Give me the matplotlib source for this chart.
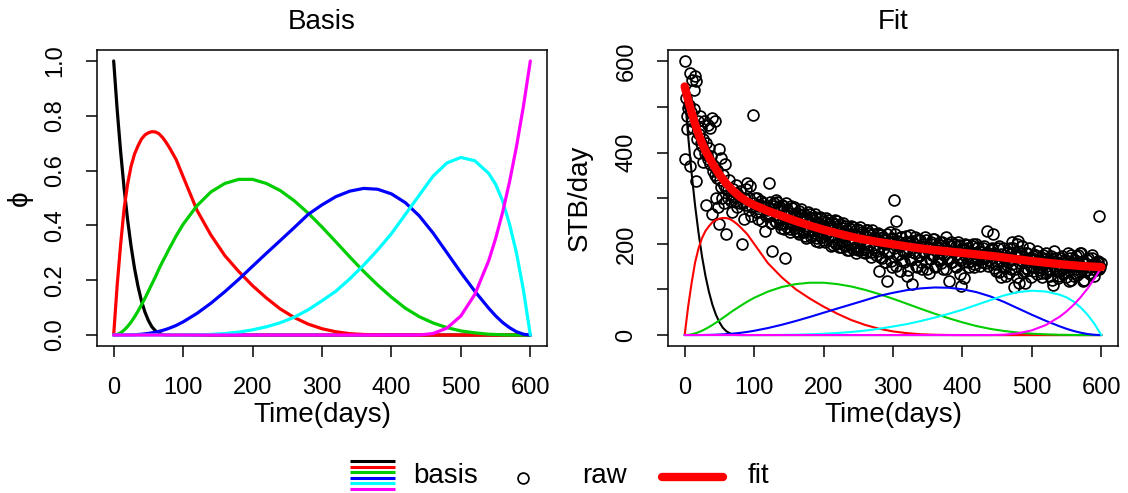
import matplotlib
matplotlib.use("Agg")
import matplotlib.pyplot as plt
import numpy as np

plt.rcParams['font.family'] = ['Liberation Sans', 'DejaVu Sans']

# ---------------- data ----------------
basis_days = [0, 5, 10, 15, 20, 25, 30, 35, 40, 45, 50, 55, 60, 65, 70, 75, 80,
              90, 100, 120, 140, 160, 180, 200, 220, 240, 260, 280, 300, 320, 340,
              360, 380, 400, 420, 440, 460, 480, 500, 520, 540, 550, 560, 570, 580,
              590, 600]

basis_black = [1.0, 0.824, 0.670, 0.536, 0.422, 0.325, 0.244, 0.178, 0.125, 0.084,
               0.053, 0.030, 0.016, 0.007, 0.002, 0.0002, 0,
               0, 0, 0, 0, 0, 0, 0, 0, 0, 0, 0, 0, 0, 0, 0, 0, 0, 0, 0,
               0, 0, 0, 0, 0, 0, 0, 0, 0, 0, 0]
basis_red = [0, 0.18, 0.33, 0.46, 0.55, 0.615, 0.66, 0.69, 0.715, 0.73, 0.738,
             0.742, 0.741, 0.735, 0.722, 0.705, 0.685,
             0.64, 0.578,
             0.455, 0.365, 0.29, 0.232, 0.18, 0.135, 0.095, 0.064, 0.04, 0.023,
             0.012, 0.005, 0.002, 0.0005, 0, 0, 0,
             0, 0, 0, 0, 0,
             0, 0, 0, 0, 0, 0]
basis_green = [0, 0.002, 0.008, 0.018, 0.031, 0.047, 0.066, 0.087, 0.11, 0.134,
               0.16, 0.186, 0.212, 0.24, 0.266, 0.29, 0.315,
               0.362, 0.404,
               0.472, 0.522, 0.553, 0.568, 0.568, 0.553, 0.527, 0.49, 0.445, 0.394,
               0.34, 0.285, 0.232, 0.183, 0.138, 0.098, 0.067,
               0.044, 0.027, 0.015, 0.008, 0.003,
               0.002, 0.001, 0, 0, 0, 0]
basis_blue = [0, 0, 0, 0.0002, 0.0004, 0.0008, 0.0013, 0.002, 0.003, 0.0044,
              0.006, 0.008, 0.0105, 0.0133, 0.0166, 0.0204, 0.0248,
              0.035, 0.048,
              0.079, 0.116, 0.158, 0.203, 0.251, 0.2985, 0.345, 0.392, 0.44, 0.475,
              0.505, 0.525, 0.535, 0.532, 0.515, 0.483, 0.435,
              0.372, 0.30, 0.228, 0.16, 0.098,
              0.07, 0.046, 0.027, 0.012, 0.003, 0]
basis_cyan = [0, 0, 0, 0, 0, 0, 0, 0, 0, 0, 0, 0, 0, 0, 0, 0, 0,
              0, 0.0001,
              0.0007, 0.0023, 0.0054, 0.0106, 0.019, 0.03, 0.045, 0.065, 0.092,
              0.125, 0.16, 0.205, 0.255, 0.31, 0.37, 0.44, 0.51,
              0.58, 0.628, 0.648, 0.636, 0.59,
              0.55, 0.49, 0.405, 0.30, 0.165, 0]
basis_magenta = [0, 0, 0, 0, 0, 0, 0, 0, 0, 0, 0, 0, 0, 0, 0, 0, 0,
                 0, 0,
                 0, 0, 0, 0, 0, 0, 0, 0, 0, 0, 0, 0, 0, 0, 0, 0, 0.0002,
                 0.0055, 0.0254, 0.0698, 0.148, 0.271,
                 0.352, 0.447, 0.5585, 0.687, 0.834, 1.0]

basis_series = [basis_black, basis_red, basis_green, basis_blue, basis_cyan, basis_magenta]
basis_colors = ['black', '#FF0000', '#00CD00', '#0000FF', '#00FFFF', '#FF00FF']

# scale of each basis function in the "Fit" panel
basis_coef = [530, 346, 202, 195, 150, 148]

fit_days = [0, 5, 10, 15, 20, 25, 30, 40, 50, 60, 70, 80, 90, 100, 120, 140, 160,
            180, 200, 225, 250, 275, 300, 325, 350, 375, 400, 425, 450, 475, 500,
            525, 550, 575, 600]
fit_stb = [545, 515, 488, 463, 440, 421, 404, 376, 352, 332, 316, 303, 293, 285,
           272, 261, 250, 240, 231, 221, 212, 205, 199, 193, 188, 184, 180, 176,
           172, 167, 162, 158, 154, 151, 149]

# raw observations, first set (early days and even days)
raw_days = [
    0, 1, 2, 3, 4, 5, 6, 7, 8, 9, 10, 11, 12, 13, 14, 15, 16, 17, 18, 19, 20,
    21, 22, 23, 24, 25, 26, 27, 28, 29, 30, 31, 32, 33, 34, 35, 36, 37, 38, 39, 40,
    41, 42, 43, 44, 45, 46, 47, 48, 49, 50, 51, 52, 53, 54, 55, 56, 57, 58, 59, 60,
    62, 63, 64, 66, 67, 68, 70, 71, 72, 74, 75, 76, 78, 79, 80, 82, 84, 85, 86, 88,
    89, 90, 92, 93, 94, 96, 97, 98, 100, 101, 102, 104, 105, 106, 108, 109, 110,
    112, 113, 114, 116, 117, 118, 120,
    122, 124, 126, 128, 130, 132, 134, 136, 138, 140, 142, 144, 146, 148, 150, 152,
    154, 156, 158, 160, 162, 164, 166, 168, 170, 172, 174, 176, 178, 180, 182, 184,
    186, 188, 190, 192, 194, 196, 198, 200, 202, 204, 206, 208, 210, 212, 214, 216,
    218, 220, 222, 224, 226, 228, 230, 232, 234, 236, 238, 240, 242, 244, 246, 248,
    250, 252, 254, 256, 258, 260, 262, 264, 266, 268, 270, 272, 274, 276, 278, 280,
    282, 284, 286, 288, 290, 292, 294, 296, 298, 300, 302, 304, 306, 308, 310, 312,
    314, 316, 318, 320, 322, 324, 326, 328, 330, 332, 334, 336, 338, 340, 342, 344,
    346, 348, 350, 352, 354, 356, 358, 360, 362, 364, 366, 368, 370, 372, 374, 376,
    378, 380, 382, 384, 386, 388, 390, 392, 394, 396, 398, 400, 402, 404, 406, 408,
    410, 412, 414, 416, 418, 420, 422, 424, 426, 428, 430, 432, 434, 436, 438, 440,
    442, 444, 446, 448, 450, 452, 454, 456, 458, 460, 462, 464, 466, 468, 470, 472,
    474, 476, 478, 480, 482, 484, 486, 488, 490, 492, 494, 496, 498, 500, 502, 504,
    506, 508, 510, 512, 514, 516, 518, 520, 522, 524, 526, 528, 530, 532, 534, 536,
    538, 540, 542, 544, 546, 548, 550, 552, 554, 556, 558, 560, 562, 564, 566, 568,
    570, 572, 574, 576, 578, 580, 582, 584, 586, 588, 590, 592, 594, 596, 598]
raw_stb = [
    385, 601, 520, 451, 480, 498, 505, 574, 370, 490, 560, 470, 455, 495, 538, 567,
    556, 337, 430, 470, 400,
    440, 480, 420, 455, 415, 380, 430, 470, 400, 420, 286, 395, 460, 385, 410, 453,
    375, 392, 265, 476, 360, 370, 469, 350, 300, 362, 345, 280, 407, 243, 340, 325,
    388, 300, 350, 330, 290, 374, 320, 221,
    300, 318, 340, 310, 295, 270, 320, 305, 295, 330, 312, 280, 305, 290, 315, 199,
    290, 300, 254, 320, 285, 334, 275, 300, 327, 260, 280, 483, 290, 300, 270, 300,
    282, 255, 285, 270, 295, 250, 290, 280, 228, 262, 275, 265,
    334, 245, 184, 290, 249, 296, 257, 282, 234, 286, 245, 170, 290, 237, 268, 225,
    278, 241, 280, 228, 267, 222, 257, 276, 227, 266, 213, 256, 231, 266, 215, 256,
    223, 266, 213, 246, 205, 256, 215, 251, 205, 257, 218, 243, 196, 247, 206, 253,
    200, 233, 194, 243, 206, 246, 197, 231, 187, 234, 200, 239, 188, 222, 181, 232,
    194, 237, 186, 222, 199, 180, 230, 185, 223, 172, 230, 190, 215, 175, 222, 141,
    205, 170, 215, 160, 200, 119, 185, 225, 150, 210, 297, 250, 175, 195, 140, 215,
    185, 160, 205, 130, 190, 220, 165, 112, 200, 180, 150, 210, 175, 195, 145, 185,
    215, 160, 190, 135, 200, 175, 210, 150, 185, 195, 165, 205, 180, 145, 190, 215,
    170, 119, 195, 160, 185, 200, 150, 178, 205, 165, 108, 190, 125, 175, 198, 160,
    185, 170, 195, 150, 180, 200, 165, 185, 175, 160, 190, 170, 180, 228, 165, 175,
    190, 221, 180, 140, 175, 195, 165, 127, 150, 170, 130, 180, 160, 190, 145, 205,
    105, 175, 200, 206, 115, 165, 195, 140, 115, 180, 160, 190, 150, 170, 140, 175,
    160, 185, 150, 165, 135, 175, 155, 180, 145, 160, 130, 170, 110, 185, 140, 160,
    125, 155, 170, 145, 135, 165, 150, 180, 118, 175, 155, 130, 165, 145, 175, 150,
    180, 160, 118, 140, 155, 165, 135, 150, 170, 145, 155, 150, 160, 261, 150]

# raw observations, second set (odd days after day 120)
raw_days_odd = [
    121, 123, 125, 127, 129, 131, 133, 135, 137, 139, 141, 143, 145, 147, 149, 151,
    153, 155, 157, 159, 161, 163, 165, 167, 169, 171, 173, 175, 177, 179, 181, 183,
    185, 187, 189, 191, 193, 195, 197, 199, 201, 203, 205, 207, 209, 211, 213, 215,
    217, 219, 221, 223, 225, 227, 229, 231, 233, 235, 237, 239, 241, 243, 245, 247,
    249, 251, 253, 255, 257, 259, 261, 263, 265, 267, 269, 271, 273, 275, 277, 279,
    281, 283, 285, 287, 289, 291, 293, 295, 297, 299, 301, 303, 305, 307, 309, 311,
    313, 315, 317, 319, 321, 323, 325, 327, 329, 331, 333, 335, 337, 339, 341, 343,
    345, 347, 349, 351, 353, 355, 357, 359, 361, 363, 365, 367, 369, 371, 373, 375,
    377, 379, 381, 383, 385, 387, 389, 391, 393, 395, 397, 399, 401, 403, 405, 407,
    409, 411, 413, 415, 417, 419, 421, 423, 425, 427, 429, 431, 433, 435, 437, 439,
    441, 443, 445, 447, 449, 451, 453, 455, 457, 459, 461, 463, 465, 467, 469, 471,
    473, 475, 477, 479, 481, 483, 485, 487, 489, 491, 493, 495, 497, 499, 501, 503,
    505, 507, 509, 511, 513, 515, 517, 519, 521, 523, 525, 527, 529, 531, 533, 535,
    537, 539, 541, 543, 545, 547, 549, 551, 553, 555, 557, 559, 561, 563, 565, 567,
    569, 571, 573, 575, 577, 579, 581, 583, 585, 587, 589, 591, 593, 595, 597, 599]
raw_stb_odd = [
    260, 291, 245, 277, 283, 248, 291, 259, 243, 274, 283, 232, 263, 276, 246, 233,
    284, 245, 266, 235, 260, 225, 272, 241, 264, 231, 218, 249, 270, 229, 256, 219,
    240, 259, 206, 247, 226, 258, 216, 239, 208, 247, 224, 253, 214, 239, 198, 243,
    216, 249, 202, 229, 194, 234, 207, 240, 195, 221, 186, 232, 201, 238, 194, 219,
    187, 230, 203, 225, 182, 220, 193, 230, 198, 219, 183, 222, 194, 209, 185, 224,
    172, 220, 189, 209, 160, 222, 179, 203, 163, 213, 190, 222, 152, 206, 178, 215,
    165, 200, 180, 217, 143, 204, 170, 207, 183, 216, 152, 193, 173, 208, 160, 199,
    181, 209, 144, 194, 166, 203, 175, 210, 152, 190, 167, 197, 158, 204, 176, 191,
    145, 199, 168, 204, 160, 183, 151, 195, 170, 198, 134, 189, 161, 199, 172, 190,
    150, 183, 163, 199, 156, 180, 166, 192, 151, 183, 169, 195, 158, 180, 152, 187,
    161, 189, 146, 176, 156, 191, 139, 178, 162, 191, 147, 170, 182, 137, 177, 156,
    190, 145, 171, 128, 176, 157, 181, 136, 166, 147, 181, 142, 168, 127, 173, 150,
    176, 133, 163, 143, 172, 128, 157, 167, 135, 162, 144, 174, 121, 163, 147, 168,
    130, 156, 140, 173, 133, 157, 127, 162, 142, 168, 120, 158, 136, 174, 132, 152,
    181, 139, 163, 121, 159, 143, 169, 133, 153, 175, 129, 158, 142, 162, 145, 157]

x_ticks = [0, 100, 200, 300, 400, 500, 600]
phi_ticks = [0.0, 0.2, 0.4, 0.6, 0.8, 1.0]
phi_tick_labels = ['0.0', '0.2', '0.4', '0.6', '0.8', '1.0']
stb_ticks = [0, 100, 200, 300, 400, 500, 600]
stb_tick_labels = ['0', '', '200', '', '400', '', '600']

# ---------------- figure ----------------
W, H = 1128, 493
fig = plt.figure(figsize=(W / 100, H / 100), dpi=100)


def rect(x0, x1, y0, y1):
    return [x0 / W, 1 - y1 / H, (x1 - x0) / W, (y1 - y0) / H]


ax1 = fig.add_axes(rect(97, 547, 50, 346))
ax2 = fig.add_axes(rect(668, 1118, 50, 346))

for series, col in zip(basis_series, basis_colors):
    ax1.plot(basis_days, series, color=col, lw=2.3, solid_capstyle='round',
             solid_joinstyle='round')
ax1.set_xlim(-24, 624)
ax1.set_ylim(-0.04, 1.04)
ax1.set_xticks(x_ticks)
ax1.set_yticks(phi_ticks)
ax1.set_yticklabels(phi_tick_labels)

marker_style = dict(linestyle='none', marker='o', mfc='none', mec='black',
                    ms=7.8, mew=1.25)
ax2.plot(raw_days, raw_stb, **marker_style)
ax2.plot(raw_days_odd, raw_stb_odd, **marker_style)
for series, col, c in zip(basis_series, basis_colors, basis_coef):
    ax2.plot(basis_days, np.array(series) * c, color=col, lw=1.5,
             solid_capstyle='round', solid_joinstyle='round')
ax2.plot(fit_days, fit_stb, color='#FF0000', lw=6.0, solid_capstyle='round',
         solid_joinstyle='round')
ax2.set_xlim(-24, 624)
ax2.set_ylim(-24, 625)
ax2.set_xticks(x_ticks)
ax2.set_yticks(stb_ticks)
ax2.set_yticklabels(stb_tick_labels)

for ax in (ax1, ax2):
    for sp in ax.spines.values():
        sp.set_linewidth(1.1)
    ax.tick_params(direction='out', length=8, width=1.1, labelsize=17, pad=14)
    ax.tick_params(axis='y', labelrotation=90)
    for lab in ax.get_yticklabels():
        lab.set_verticalalignment('center')


def ftext(x, y, s, **kw):
    fig.text(x / W, 1 - y / H, s, ha='center', va='center', **kw)


ftext(322, 22, 'Basis', fontsize=20)
ftext(893, 22, 'Fit', fontsize=20)
ftext(322, 415, 'Time(days)', fontsize=20)
ftext(893, 415, 'Time(days)', fontsize=20)
ftext(20, 198, '\u03d5', fontsize=20, rotation=90)
ftext(580, 198, 'STB/day', fontsize=20, rotation=90)

# legend drawn in pixel space
lax = fig.add_axes([0, 0, 1, 1])
lax.set_xlim(0, W)
lax.set_ylim(H, 0)
lax.axis('off')
for i, col in enumerate(basis_colors):
    yy = 461 + i * 5.6
    lax.plot([350, 395], [yy, yy], color=col, lw=2.2, solid_capstyle='butt')
lax.text(413, 476, 'basis', fontsize=20, ha='left', va='center')
lax.plot([523], [478], **marker_style)
lax.text(582, 476, 'raw', fontsize=20, ha='left', va='center')
lax.plot([662, 723], [477, 477], color='#FF0000', lw=6.0, solid_capstyle='round')
lax.text(748, 476, 'fit', fontsize=20, ha='left', va='center')

fig.savefig('out.png', dpi=100)
